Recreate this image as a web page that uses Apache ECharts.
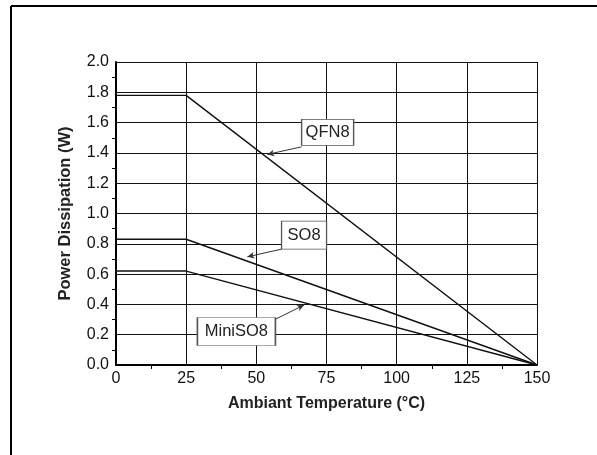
<!DOCTYPE html>
<html>
<head>
<meta charset="utf-8">
<script src="https://cdn.jsdelivr.net/npm/echarts@6/dist/echarts.min.js"></script>
<style>
  html, body { margin: 0; padding: 0; background: #fff; }
  #chart { width: 597px; height: 455px; }
</style>
</head>
<body>
<div id="chart"></div>
<script>
// Power derating curves: dissipation vs ambient temperature per package
const packages = ['QFN8', 'SO8', 'MiniSO8'];
const tempPoints = [0, 25, 150];
const qfn8Power = [1.78, 1.78, 0];
const so8Power = [0.83, 0.83, 0];
const miniSo8Power = [0.62, 0.62, 0];

// Callout boxes (centre, in data units) and their pointer arrows [from, to]
const calloutCentres = [[75.4, 1.536], [67.0, 0.857], [42.9, 0.221]];
const calloutArrows = [
  [[66.1, 1.44], [53.9, 1.39]],
  [[59.0, 0.765], [46.8, 0.714]],
  [[56.9, 0.303], [67.0, 0.396]]
];
const calloutSizes = [[52, 26], [45, 28], [78, 28]];

const font = '"Liberation Sans", Arial, sans-serif';
const powerSeries = [qfn8Power, so8Power, miniSo8Power];

const series = packages.map((name, i) => ({
  name: name,
  type: 'line',
  data: tempPoints.map((t, j) => [t, powerSeries[i][j]]),
  symbol: 'none',
  lineStyle: { color: '#111', width: 1.4 },
  z: 3,
  markPoint: {
    silent: true,
    symbol: 'rect',
    symbolSize: calloutSizes[i],
    itemStyle: { color: '#fff', borderColor: '#555', borderWidth: 1 },
    label: { show: true, formatter: name, color: '#222', fontSize: 16.5, fontFamily: font },
    data: [{ coord: calloutCentres[i] }],
    z: 5
  },
  markLine: {
    silent: true,
    symbol: ['none', 'arrow'],
    symbolSize: [5, 7],
    lineStyle: { color: '#333', width: 1, type: 'solid' },
    label: { show: false },
    data: [[{ coord: calloutArrows[i][0] }, { coord: calloutArrows[i][1] }]],
    z: 4
  }
}));

const chart = echarts.init(document.getElementById('chart'), null, { renderer: 'canvas' });
chart.setOption({
  animation: false,
  backgroundColor: '#fff',
  grid: { left: 116, right: 60, top: 62, bottom: 90, containLabel: false },
  xAxis: {
    type: 'value',
    min: 0, max: 150, interval: 25,
    name: 'Ambiant Temperature (°C)',
    nameLocation: 'middle',
    nameGap: 31,
    nameTextStyle: { fontSize: 16, fontWeight: 'bold', color: '#222', fontFamily: font },
    axisLine: { show: true, onZero: false, lineStyle: { color: '#000', width: 2 } },
    axisTick: { show: false },
    minorTick: { show: true, splitNumber: 2, length: 4, lineStyle: { color: '#000', width: 1 } },
    axisLabel: { fontSize: 16, color: '#111', margin: 6, fontFamily: font },
    splitLine: { show: true, lineStyle: { color: '#111', width: 1 } }
  },
  yAxis: {
    type: 'value',
    min: 0, max: 2.0, interval: 0.2,
    name: 'Power Dissipation (W)',
    nameLocation: 'middle',
    nameGap: 42,
    nameTextStyle: { fontSize: 16.5, fontWeight: 'bold', color: '#222', fontFamily: font },
    axisLine: { show: true, lineStyle: { color: '#000', width: 2 } },
    axisTick: { show: false },
    minorTick: { show: true, splitNumber: 2, length: 4, lineStyle: { color: '#000', width: 1 } },
    axisLabel: { fontSize: 16, color: '#111', margin: 7, fontFamily: font,
      formatter: v => v.toFixed(1) },
    splitLine: { show: true, lineStyle: { color: '#111', width: 1 } }
  },
  graphic: [
    { type: 'line', shape: { x1: 11, y1: 6, x2: 597, y2: 6 }, style: { stroke: '#000', lineWidth: 2 }, silent: true },
    { type: 'line', shape: { x1: 11, y1: 6, x2: 11, y2: 455 }, style: { stroke: '#000', lineWidth: 2 }, silent: true }
  ],
  series: series
});
</script>
</body>
</html>
